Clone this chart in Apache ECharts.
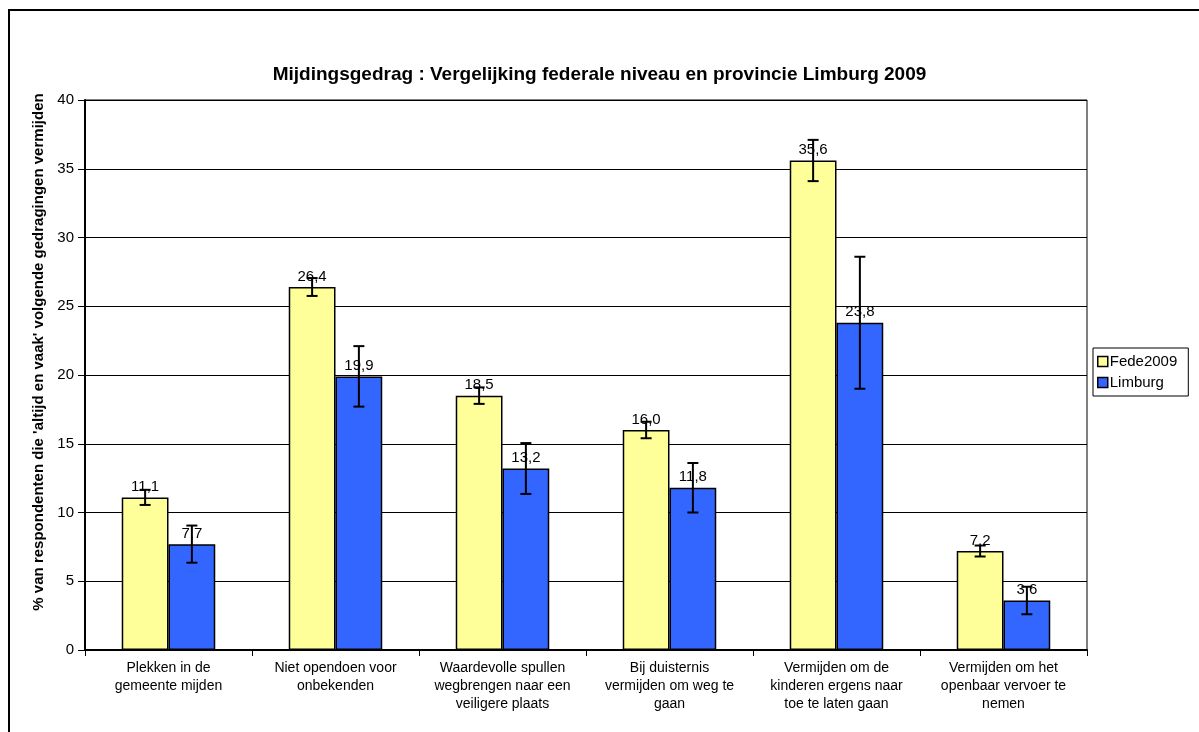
<!DOCTYPE html>
<html>
<head>
<meta charset="utf-8">
<script src="https://cdn.jsdelivr.net/npm/echarts@6/dist/echarts.min.js"></script>
<style>
  html, body { margin: 0; padding: 0; background: #fff; }
  #chart { width: 1199px; height: 732px; }
</style>
</head>
<body>
<div id="chart"></div>
<script>
// categories and values
var categories = [
    'Plekken in de\ngemeente mijden',
    'Niet opendoen voor\nonbekenden',
    'Waardevolle spullen\nwegbrengen naar een\nveiligere plaats',
    'Bij duisternis\nvermijden om weg te\ngaan',
    'Vermijden om de\nkinderen ergens naar\ntoe te laten gaan',
    'Vermijden om het\nopenbaar vervoer te\nnemen'
];
var fedeValues = [11.1, 26.4, 18.5, 16.0, 35.6, 7.2];
var limburgValues = [7.7, 19.9, 13.2, 11.8, 23.8, 3.6];
// half-width of the error bars (estimated)
var fedeErr = [0.55, 0.65, 0.6, 0.6, 1.5, 0.4];
var limburgErr = [1.35, 2.2, 1.85, 1.8, 4.8, 1.0];
var seriesNames = ['Fede2009', 'Limburg'];

var BAR_RATIO = 0.28;
var FONT = '"Liberation Sans", Arial, sans-serif';

function errData(values, errs) {
    return values.map(function (v, i) {
        return [i, v - errs[i], v + errs[i]];
    });
}

function errorRenderer(shift) {
    return function (params, api) {
        var idx = api.value(0);
        var lo = api.coord([idx, api.value(1)]);
        var hi = api.coord([idx, api.value(2)]);
        var bw = api.size([1, 0])[0] * BAR_RATIO;
        var x = lo[0] + shift * bw / 2;
        var cap = 5.5;
        var style = { stroke: '#000', lineWidth: 2 };
        return {
            type: 'group',
            children: [
                { type: 'line', shape: { x1: x, y1: lo[1], x2: x, y2: hi[1] }, style: style },
                { type: 'line', shape: { x1: x - cap, y1: lo[1], x2: x + cap, y2: lo[1] }, style: style },
                { type: 'line', shape: { x1: x - cap, y1: hi[1], x2: x + cap, y2: hi[1] }, style: style }
            ]
        };
    };
}

function labelFmt(p) {
    return p.value.toFixed(1).replace('.', ',');
}

var chart = echarts.init(document.getElementById('chart'));

var option = {
    animation: false,
    textStyle: { fontFamily: FONT, color: '#000' },
    graphic: [{
        type: 'rect',
        shape: { x: 9, y: 10, width: 1250, height: 800 },
        style: { fill: 'none', stroke: '#000', lineWidth: 2 },
        silent: true
    }],
    title: {
        text: 'Mijdingsgedrag : Vergelijking federale niveau en provincie Limburg 2009',
        left: 'center',
        top: 60,
        textStyle: { fontFamily: FONT, fontSize: 19, fontWeight: 'bold', color: '#000' }
    },
    legend: {
        orient: 'vertical',
        left: 1093,
        top: 348,
        data: seriesNames,
        icon: 'rect',
        itemWidth: 10,
        itemHeight: 10,
        itemGap: 6,
        padding: [6, 11, 6, 4],
        borderColor: '#000',
        borderWidth: 1,
        itemStyle: { borderColor: '#000', borderWidth: 1.5 },
        textStyle: { fontFamily: FONT, fontSize: 15, color: '#000', padding: [0, 0, 0, -3] }
    },
    grid: {
        left: 85,
        right: 112,
        top: 100,
        bottom: 82,
        show: true,
        borderColor: '#000',
        borderWidth: 1,
        backgroundColor: '#fff'
    },
    xAxis: {
        type: 'category',
        data: categories,
        axisLine: { lineStyle: { color: '#000', width: 2 } },
        axisTick: { show: true, alignWithLabel: false, length: 6, lineStyle: { color: '#000', width: 1 } },
        axisLabel: {
            interval: 0,
            margin: 9,
            fontSize: 14,
            lineHeight: 18,
            color: '#000',
            fontFamily: FONT
        }
    },
    yAxis: {
        type: 'value',
        min: 0,
        max: 40,
        interval: 5,
        name: "% van respondenten die 'altijd en vaak' volgende gedragingen vermijden",
        nameLocation: 'middle',
        nameGap: 38,
        nameTextStyle: { fontFamily: FONT, fontSize: 15, fontWeight: 'bold', color: '#000', padding: [0, 0, 0, 46] },
        axisLine: { show: true, lineStyle: { color: '#000', width: 2 } },
        axisTick: { show: true, length: 7, lineStyle: { color: '#000', width: 1 } },
        axisLabel: { fontSize: 15, color: '#000', margin: 11, fontFamily: FONT },
        splitLine: { lineStyle: { color: '#000', width: 1 } }
    },
    series: [
        {
            name: seriesNames[0],
            type: 'bar',
            data: fedeValues,
            barWidth: (BAR_RATIO * 100) + '%',
            barGap: '0%',
            itemStyle: { color: '#FFFF99', borderColor: '#000', borderWidth: 1.5 },
            label: {
                show: true, position: 'top', distance: 3,
                fontSize: 15, color: '#000', fontFamily: FONT,
                formatter: labelFmt
            }
        },
        {
            name: seriesNames[1],
            type: 'bar',
            data: limburgValues,
            barWidth: (BAR_RATIO * 100) + '%',
            barGap: '0%',
            itemStyle: { color: '#3366FF', borderColor: '#000', borderWidth: 1.5 },
            label: {
                show: true, position: 'top', distance: 3,
                fontSize: 15, color: '#000', fontFamily: FONT,
                formatter: labelFmt
            }
        },
        {
            type: 'custom',
            name: 'fedeErr',
            renderItem: errorRenderer(-1),
            data: errData(fedeValues, fedeErr),
            encode: { x: 0, y: [1, 2] },
            z: 10,
            silent: true
        },
        {
            type: 'custom',
            name: 'limburgErr',
            renderItem: errorRenderer(1),
            data: errData(limburgValues, limburgErr),
            encode: { x: 0, y: [1, 2] },
            z: 10,
            silent: true
        }
    ]
};

chart.setOption(option);
</script>
</body>
</html>
